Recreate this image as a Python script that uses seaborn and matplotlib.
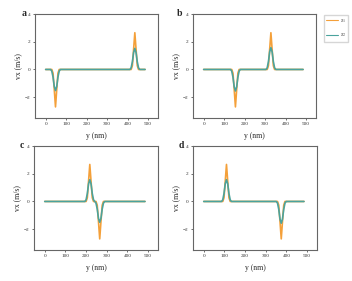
import matplotlib
matplotlib.use("Agg")
import matplotlib.pyplot as plt
import seaborn as sns
import pandas as pd

sns.set_style("white")
plt.rcParams['font.family'] = ['Liberation Serif', 'DejaVu Serif']
plt.rcParams['mathtext.fontset'] = 'stix'

# ---- data ----
x_a = [0, 24, 30, 36, 42, 48, 54, 60, 66, 72, 411, 417, 423, 429, 435, 441, 447, 453, 459, 485]
s1_a = [0, 0, 0, -0.27, -1.45, -2.70, -1.45, -0.27, 0, 0, 0, 0, 0.27, 1.45, 2.65, 1.45, 0.27, 0, 0, 0]
s2_a = [0, 0, -0.12, -0.55, -1.22, -1.52, -1.22, -0.55, -0.12, 0, 0, 0.12, 0.55, 1.22, 1.52, 1.22, 0.55, 0.12, 0, 0]

x_b = [0, 131, 137, 143, 149, 155, 161, 167, 173, 179, 304, 310, 316, 322, 328, 334, 340, 346, 352, 485]
s1_b = [0, 0, 0, -0.27, -1.45, -2.70, -1.45, -0.27, 0, 0, 0, 0, 0.27, 1.45, 2.65, 1.45, 0.27, 0, 0, 0]
s2_b = [0, 0, -0.12, -0.56, -1.25, -1.55, -1.25, -0.56, -0.12, 0, 0, 0.12, 0.57, 1.27, 1.57, 1.27, 0.57, 0.12, 0, 0]

x_c = [0, 194, 200, 206, 212, 218, 224, 230, 236, 242, 248, 254, 260, 266, 272, 278, 284, 290, 485]
s1_c = [0, 0, 0, 0.27, 1.46, 2.67, 1.46, 0.27, 0, 0, 0, -0.27, -1.45, -2.70, -1.45, -0.27, 0, 0, 0]
s2_c = [0, 0, 0.12, 0.57, 1.27, 1.57, 1.27, 0.57, 0.12, 0, -0.12, -0.55, -1.22, -1.50, -1.22, -0.55, -0.12, 0, 0]

x_d = [0, 86, 92, 98, 104, 110, 116, 122, 128, 134, 351, 357, 363, 369, 375, 381, 387, 393, 399, 485]
s1_d = [0, 0, 0, 0.27, 1.46, 2.67, 1.46, 0.27, 0, 0, 0, 0, -0.27, -1.45, -2.70, -1.45, -0.27, 0, 0, 0]
s2_d = [0, 0, 0.12, 0.57, 1.27, 1.57, 1.27, 0.57, 0.12, 0, 0, -0.12, -0.57, -1.27, -1.57, -1.27, -0.57, -0.12, 0, 0]

panels = [("a", x_a, s1_a, s2_a), ("b", x_b, s1_b, s2_b),
          ("c", x_c, s1_c, s2_c), ("d", x_d, s1_d, s2_d)]
series_names = ["$s_1$", "$s_2$"]
x_ticks = [0, 100, 200, 300, 400, 500]
y_ticks = [-2, 0, 2, 4]
palette = {"$s_1$": "#f4a03a", "$s_2$": "#4aa39d"}

W, H = 352, 281
fig = plt.figure(figsize=(W / 100, H / 100), dpi=100)

boxes = [(35, 158, 14, 118), (193, 316, 14, 118), (34, 158, 146, 250), (193, 317, 146, 250)]
label_pos = [(24, 13), (180, 13), (22, 146), (181, 146)]

for (name, xs, s1, s2), (l, r, t, b), (lx, ly) in zip(panels, boxes, label_pos):
    ax = fig.add_axes([l / W, 1 - b / H, (r - l) / W, (b - t) / H])
    df = pd.DataFrame({"y": list(xs) * 2, "v": list(s1) + list(s2),
                       "s": [series_names[0]] * len(xs) + [series_names[1]] * len(xs)})
    sns.lineplot(data=df, x="y", y="v", hue="s", palette=palette, ax=ax,
                 linewidth=1.2, legend=False, estimator=None, sort=False)
    ax.set_xlim(-52, 548)
    ax.set_ylim(-3.5, 4)
    ax.set_xticks(x_ticks)
    ax.set_yticks(y_ticks)
    ax.tick_params(labelsize=3.8, length=1.5, width=0.5, pad=1.5, colors="#333333", direction="out",
                   bottom=True, left=True)
    for sp in ax.spines.values():
        sp.set_color("#666666")
        sp.set_linewidth(0.8)
    ax.set_xlabel("y (nm)", fontsize=5.5, labelpad=4)
    ax.set_ylabel("vx (m/s)", fontsize=5.5, labelpad=2.5)
    fig.text(lx / W, 1 - ly / H, name, fontsize=7, fontweight="bold", ha="center", va="center")

from matplotlib.lines import Line2D
handles = [Line2D([], [], color=palette[n], lw=0.8) for n in series_names]
fig.legend(handles, series_names, loc="upper left", bbox_to_anchor=(321 / W, 1 - 12 / H),
           fontsize=4, frameon=True, handlelength=2.2, borderpad=0.4, labelspacing=1.2,
           handletextpad=0.3, edgecolor="#cccccc", fancybox=False)

fig.savefig("out.png", dpi=100)
